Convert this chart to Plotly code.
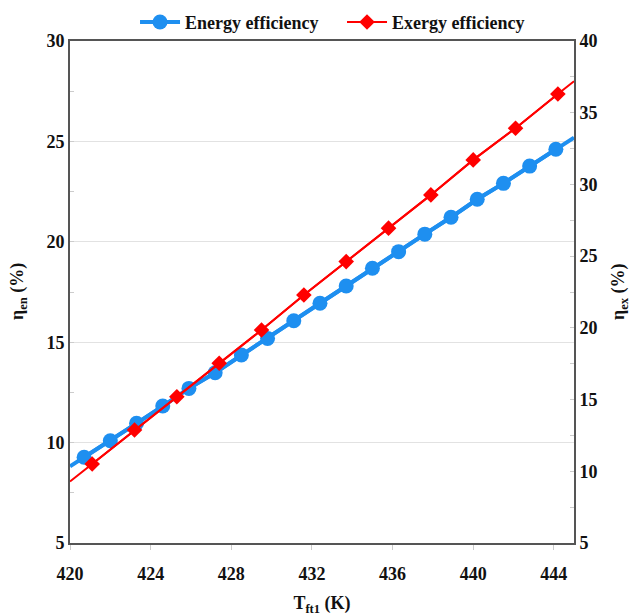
import plotly.graph_objects as go

# Energy efficiency (left axis)
en_T = [420.7, 422.0, 423.3, 424.6, 425.9, 427.2, 428.5, 429.8, 431.1, 432.4,
        433.7, 435.0, 436.3, 437.6, 438.9, 440.2, 441.5, 442.8, 444.1]
en_eff = [9.27, 10.09, 10.96, 11.82, 12.70, 13.48, 14.36, 15.19, 16.07, 16.94,
          17.80, 18.68, 19.51, 20.38, 21.22, 22.12, 22.91, 23.77, 24.61]
# Exergy efficiency (right axis)
ex_T = [421.1, 423.2, 425.3, 427.4, 429.5, 431.6, 433.7, 435.8, 437.9, 440.0, 442.1, 444.2]
ex_eff = [10.51, 12.88, 15.20, 17.53, 19.85, 22.29, 24.62, 26.95, 29.27, 31.71, 33.92, 36.31]
# Fitted line ends at the axis limits
line_T_ends = [420, 445]
en_line_ends = [8.82, 25.19]
ex_line_ends = [9.29, 37.2]

x_ticks = [420, 424, 428, 432, 436, 440, 444]

BLUE = "#1E8FF0"
RED = "#FF0000"
FONT = "Liberation Serif"

fig = go.Figure()

fig.add_trace(go.Scatter(
    x=[line_T_ends[0]] + en_T + [line_T_ends[1]],
    y=[en_line_ends[0]] + en_eff + [en_line_ends[1]],
    mode="lines", line=dict(color=BLUE, width=4), showlegend=False, hoverinfo="skip"))
fig.add_trace(go.Scatter(
    x=en_T, y=en_eff, mode="lines+markers", name="Energy efficiency",
    line=dict(color=BLUE, width=4), marker=dict(color=BLUE, size=15, symbol="circle")))

fig.add_trace(go.Scatter(
    x=[line_T_ends[0]] + ex_T + [line_T_ends[1]],
    y=[ex_line_ends[0]] + ex_eff + [ex_line_ends[1]],
    mode="lines", line=dict(color=RED, width=2), showlegend=False, hoverinfo="skip",
    yaxis="y2"))
fig.add_trace(go.Scatter(
    x=ex_T, y=ex_eff, mode="lines+markers", name="Exergy efficiency",
    line=dict(color=RED, width=2), marker=dict(color=RED, size=12, symbol="diamond"),
    yaxis="y2"))

tick_font = dict(family=FONT, size=18, color="#111", weight="bold")
title_font = dict(family=FONT, size=18, color="#111", weight="bold")

fig.update_layout(
    width=639, height=616,
    margin=dict(l=62, r=73, t=33, b=81, autoexpand=False),
    paper_bgcolor="white", plot_bgcolor="white",
    font=dict(family=FONT, color="#111"),
    showlegend=True,
    legend=dict(orientation="h", x=0.129, xanchor="left", y=1.074, yanchor="top",
                font=dict(family=FONT, size=18, color="#111", weight="bold"),
                bgcolor="rgba(0,0,0,0)", itemwidth=40, tracegroupgap=0,
                entrywidth=152, entrywidthmode="pixels"),
    xaxis=dict(
        range=[420, 445], tickvals=x_ticks, ticktext=[str(v) for v in x_ticks],
        showgrid=False, zeroline=False,
        showline=True, linecolor="#555", linewidth=2, mirror=True,
        ticks="outside", ticklen=5, tickcolor="#ccc",
        tickfont=tick_font, ticklabelstandoff=8,
        title=dict(text="T<sub>ft1</sub> (K)", font=title_font, standoff=14),
    ),
    yaxis=dict(
        range=[5, 30], dtick=5,
        showgrid=True, gridcolor="#e2e2e2", gridwidth=1, zeroline=False,
        showline=True, linecolor="#555", linewidth=2,
        ticks="inside", ticklen=4, tickcolor="#ccc",
        minor=dict(dtick=2.5, ticks="inside", ticklen=4, tickcolor="#ccc", showgrid=False),
        tickfont=tick_font,
    ),
    yaxis2=dict(
        range=[5, 40], dtick=5, overlaying="y", side="right",
        showgrid=False, zeroline=False,
        showline=True, linecolor="#555", linewidth=2,
        ticks="inside", ticklen=4, tickcolor="#ccc",
        minor=dict(dtick=2.5, ticks="inside", ticklen=4, tickcolor="#ccc", showgrid=False),
        tickfont=tick_font,
    ),
    annotations=[
        dict(text="η<sub>en</sub> (%)", xref="paper", yref="paper", x=0, y=0.5,
             xshift=-52, xanchor="center", yanchor="middle", textangle=-90,
             showarrow=False, font=title_font),
        dict(text="η<sub>ex</sub> (%)", xref="paper", yref="paper", x=1, y=0.5,
             xshift=45, xanchor="center", yanchor="middle", textangle=-90,
             showarrow=False, font=title_font),
    ],
)

fig.write_html("out.html")
